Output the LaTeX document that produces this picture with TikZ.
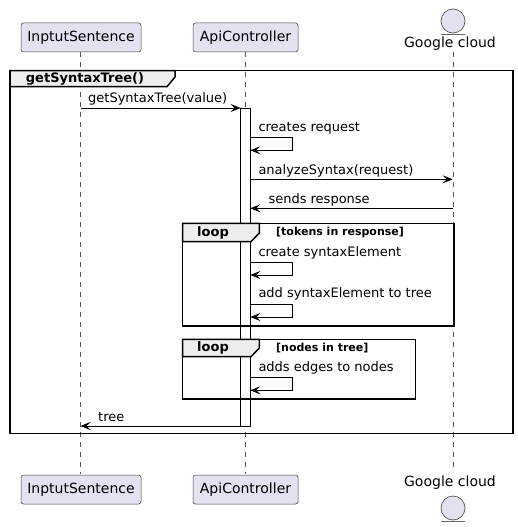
\documentclass[tikz,border=0pt]{standalone}
\usepackage{fontspec}
\setmainfont{DejaVu Sans}
\usetikzlibrary{arrows.meta}

\definecolor{partfill}{HTML}{E2E2F0}
\definecolor{tabfill}{HTML}{EEEEEE}
\definecolor{lifegray}{HTML}{555555}

\tikzset{
  participant/.style={draw=black!75, line width=0.5pt, fill=partfill, rounded corners=2.5pt,
    minimum height=29pt, inner xsep=6pt, font=\fontsize{14}{16}\selectfont},
  entitylbl/.style={inner sep=0pt, font=\fontsize{14}{16}\selectfont},
  lifeline/.style={draw=lifegray, line width=0.5pt, dash pattern=on 5pt off 5pt},
  msg/.style={line width=0.9pt, -{Stealth[length=10pt,width=8pt,inset=4pt]}},
  msglbl/.style={anchor=west, inner sep=0pt, font=\fontsize{13}{15}\selectfont},
  frame/.style={line width=1.5pt},
  tab/.style={line width=1.5pt, fill=tabfill},
  tablbl/.style={inner sep=0pt, font=\fontsize{13}{15}\selectfont\bfseries},
  guardlbl/.style={anchor=west, inner sep=0pt, font=\fontsize{11}{13}\selectfont\bfseries},
  actbar/.style={draw, line width=0.8pt, fill=white}
}

\begin{document}
\begin{tikzpicture}[x=1pt, y=-1pt]
  \useasboundingbox (0,0) rectangle (517,527);

  %%%%% LIFELINES %%%%%
  \coordinate (inTop) at (80.5,52);   \coordinate (inBot) at (80.5,474);
  \coordinate (apiTop) at (245.5,52); \coordinate (apiBot) at (245.5,474);
  \coordinate (gcTop) at (453,52);    \coordinate (gcBot) at (453,472);
  \draw[lifeline] (inTop) -- (inBot);
  \draw[lifeline] (apiTop) -- (apiBot);
  \draw[lifeline] (gcTop) -- (gcBot);

  %%%%% PARTICIPANTS %%%%%
  \node[participant, minimum width=120pt] (inHead) at (81,37.5) {InptutSentence};
  \node[participant, minimum width=105pt] (apiHead) at (245.5,37.5) {ApiController};
  \node[participant, minimum width=120pt] (inFoot) at (81,489.5) {InptutSentence};
  \node[participant, minimum width=105pt] (apiFoot) at (245.5,489.5) {ApiController};

  % entity: Google cloud
  \draw[draw=black!60, line width=0.8pt, fill=partfill] (453,21) circle (12);
  \draw[black!60, line width=0.8pt] (441,34.3) -- (465,34.3);
  \node[entitylbl] (gcHead) at (450,44) {Google cloud};
  \node[entitylbl] (gcFoot) at (450,482.7) {Google cloud};
  \draw[draw=black!60, line width=0.8pt, fill=partfill] (453,508) circle (12);
  \draw[black!60, line width=0.8pt] (441,521) -- (465,521);

  %%%%% GROUP getSyntaxTree() %%%%%
  \draw[frame] (10,70.7) rectangle (513,433.7);
  \draw[tab] (10,70.7) -- (175,70.7) -- (175,77) -- (167,86.7) -- (10,86.7) -- cycle;
  \node[tablbl] (grpName) at (85,78.5) {getSyntaxTree()};

  %%%%% ACTIVATION %%%%%
  \draw[actbar] (240.7,108) rectangle (250.3,426);

  %%%%% MESSAGES %%%%%
  \coordinate (m1a) at (80.5,108);  \coordinate (m1b) at (240.7,108);
  \draw[msg] (m1a) -- (m1b);
  \node[msglbl] (m1lbl) at (88,99) {getSyntaxTree(value)};

  \coordinate (m2a) at (250.3,137.7); \coordinate (m2b) at (250.3,150.3);
  \draw[msg] (m2a) -- ++(42,0) |- (m2b);
  \node[msglbl] (m2lbl) at (258.3,128) {creates request};

  \coordinate (m3a) at (250.3,179.3); \coordinate (m3b) at (452.7,179.3);
  \draw[msg] (m3a) -- (m3b);
  \node[msglbl] (m3lbl) at (258.3,171) {analyzeSyntax(request)};

  \coordinate (m4a) at (452.7,208.3); \coordinate (m4b) at (250.3,208.3);
  \draw[msg] (m4a) -- (m4b);
  \node[msglbl] (m4lbl) at (268.3,200) {sends response};

  %%%%% LOOP tokens %%%%%
  \draw[frame] (182.7,223.3) rectangle (454,326);
  \draw[tab] (182.7,223.3) -- (259.3,223.3) -- (259.3,233) -- (251,241.7) -- (182.7,241.7) -- cycle;
  \node[tablbl] (loop1) at (213,232.5) {loop};
  \node[guardlbl] (guard1) at (276,232.5) {[tokens in response]};

  \coordinate (m5a) at (250.3,262.3); \coordinate (m5b) at (250.3,275);
  \draw[msg] (m5a) -- ++(42,0) |- (m5b);
  \node[msglbl] (m5lbl) at (258.3,252.7) {create syntaxElement};

  \coordinate (m6a) at (250.3,304.3); \coordinate (m6b) at (250.3,317);
  \draw[msg] (m6a) -- ++(42,0) |- (m6b);
  \node[msglbl] (m6lbl) at (258.3,294.3) {add syntaxElement to tree};

  %%%%% LOOP nodes %%%%%
  \draw[frame] (182.7,339.3) rectangle (415.7,399);
  \draw[tab] (182.7,339.3) -- (259.3,339.3) -- (259.3,348) -- (251,356.7) -- (182.7,356.7) -- cycle;
  \node[tablbl] (loop2) at (213,348) {loop};
  \node[guardlbl] (guard2) at (276,348) {[nodes in tree]};

  \coordinate (m7a) at (250.3,377.7); \coordinate (m7b) at (250.3,390.3);
  \draw[msg] (m7a) -- ++(42,0) |- (m7b);
  \node[msglbl] (m7lbl) at (258.3,368.3) {adds edges to nodes};

  \coordinate (m8a) at (240.7,426); \coordinate (m8b) at (80.5,426);
  \draw[msg] (m8a) -- (m8b);
  \node[msglbl] (m8lbl) at (98,417) {tree};
\end{tikzpicture}
\end{document}
